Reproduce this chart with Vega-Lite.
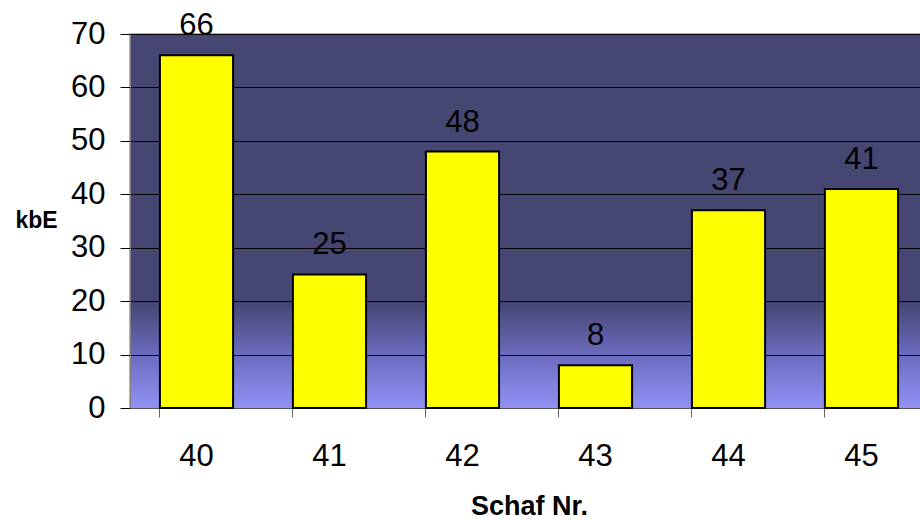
{
  "$schema": "https://vega.github.io/schema/vega-lite/v6.json",
  "autosize": "none",
  "width": 798,
  "height": 374,
  "padding": {"left": 130, "top": 34, "right": 0, "bottom": 112},
  "background": "white",
  "view": {
    "fill": {
      "gradient": "linear",
      "x1": 0, "y1": 0, "x2": 0, "y2": 1,
      "stops": [
        {"offset": 0, "color": "#464672"},
        {"offset": 0.72, "color": "#464674"},
        {"offset": 0.86, "color": "#6c6cc0"},
        {"offset": 1, "color": "#9292f6"}
      ]
    },
    "stroke": "#9a9a9a",
    "strokeWidth": 1.5
  },
  "config": {
    "font": "Liberation Sans",
    "axis": {
      "labelFont": "Liberation Sans",
      "titleFont": "Liberation Sans",
      "labelColor": "black",
      "titleColor": "black"
    }
  },
  "data": {
    "values": [
      {"schaf": "40", "kbE": 66},
      {"schaf": "41", "kbE": 25},
      {"schaf": "42", "kbE": 48},
      {"schaf": "43", "kbE": 8},
      {"schaf": "44", "kbE": 37},
      {"schaf": "45", "kbE": 41}
    ]
  },
  "encoding": {
    "x": {
      "field": "schaf",
      "type": "nominal",
      "sort": null,
      "scale": {"paddingInner": 0.45, "paddingOuter": 0.225},
      "axis": {
        "title": "Schaf Nr.",
        "titleFontSize": 27,
        "titleFontWeight": "bold",
        "titleY": 98,
        "titleBaseline": "middle",
        "labelAngle": 0,
        "labelFontSize": 31,
        "labelPadding": 24,
        "bandPosition": 0,
        "tickSize": 9,
        "tickColor": "#666666",
        "domainColor": "#555555",
        "grid": false
      }
    },
    "y": {
      "field": "kbE",
      "type": "quantitative",
      "scale": {"domain": [0, 70], "nice": false},
      "axis": {
        "title": "kbE",
        "titleAngle": 0,
        "titleFontSize": 23,
        "titleFontWeight": "bold",
        "titleAlign": "center",
        "titleBaseline": "middle",
        "titleX": -94,
        "titleY": 186,
        "values": [0, 10, 20, 30, 40, 50, 60, 70],
        "labelFontSize": 31,
        "labelPadding": 15,
        "tickSize": 10,
        "tickColor": "black",
        "domainColor": "#808080",
        "grid": true,
        "gridColor": "black",
        "gridOpacity": 1,
        "gridWidth": 1
      }
    }
  },
  "layer": [
    {
      "mark": {"type": "bar", "color": "#ffff00", "stroke": "black", "strokeWidth": 2}
    },
    {
      "mark": {"type": "text", "fontSize": 31, "baseline": "alphabetic", "dy": -20, "color": "black"},
      "encoding": {"text": {"field": "kbE", "type": "quantitative"}}
    }
  ]
}
